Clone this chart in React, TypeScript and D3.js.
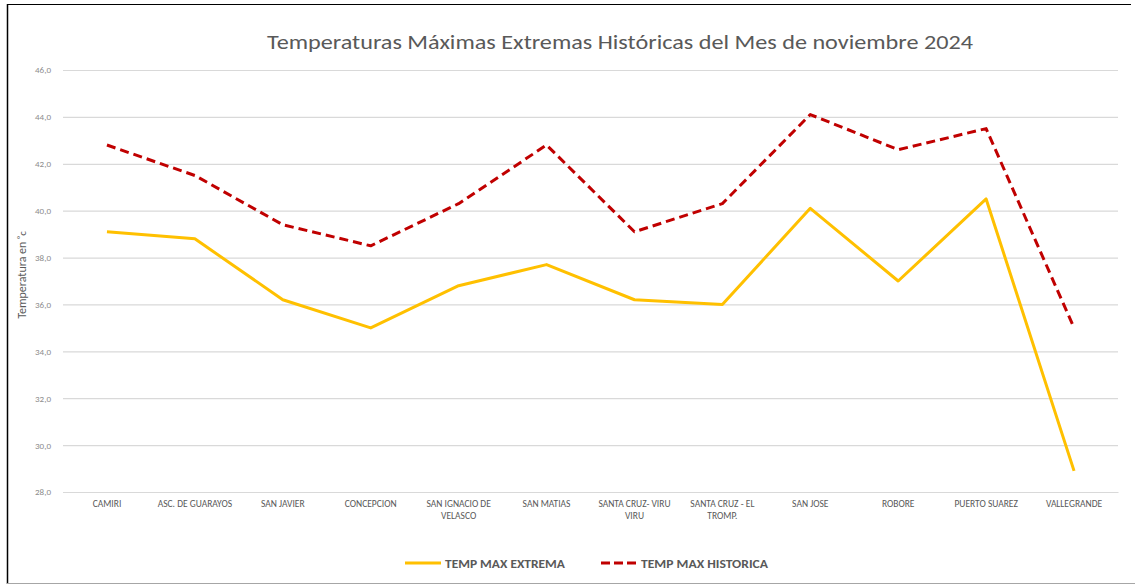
import React, { useEffect, useRef } from 'react';
import * as d3 from 'd3';

const categories: string[][] = [
  ['CAMIRI'],
  ['ASC. DE GUARAYOS'],
  ['SAN JAVIER'],
  ['CONCEPCION'],
  ['SAN IGNACIO DE', 'VELASCO'],
  ['SAN MATIAS'],
  ['SANTA CRUZ- VIRU', 'VIRU'],
  ['SANTA CRUZ - EL', 'TROMP.'],
  ['SAN JOSE'],
  ['ROBORE'],
  ['PUERTO SUAREZ'],
  ['VALLEGRANDE'],
];

const tempMaxExtrema = [39.1, 38.8, 36.2, 35.0, 36.8, 37.7, 36.2, 36.0, 40.1, 37.0, 40.5, 28.9];
const tempMaxHistorica = [42.8, 41.5, 39.4, 38.5, 40.3, 42.8, 39.1, 40.3, 44.1, 42.6, 43.5, 35.0];

const yTicks = [28, 30, 32, 34, 36, 38, 40, 42, 44, 46];

const seriesNames = ['TEMP MAX EXTREMA', 'TEMP MAX HISTORICA'];

const FONT = 'Calibri, Carlito, "Liberation Sans Narrow", "Open Sans", sans-serif';

export default function App() {
  const svgRef = useRef<SVGSVGElement>(null);

  useEffect(() => {
    const svg = d3.select(svgRef.current);
    svg.selectAll('*').remove();

    const W = 1135;
    const H = 585;
    const margin = { top: 70, right: 17, bottom: 93, left: 63 };
    const width = W - margin.left - margin.right;
    const height = H - margin.top - margin.bottom;

    svg.attr('width', W).attr('height', H);

    // fondo y borde
    svg.append('rect').attr('width', W).attr('height', H).attr('fill', '#fff');
    svg.append('line').attr('x1', 7).attr('x2', 1131).attr('y1', 4.5).attr('y2', 4.5)
      .attr('stroke', '#000').attr('stroke-width', 1.2);
    svg.append('line').attr('x1', 7.5).attr('x2', 7.5).attr('y1', 4).attr('y2', 584)
      .attr('stroke', '#000').attr('stroke-width', 1.5);
    svg.append('line').attr('x1', 7).attr('x2', W).attr('y1', 583.5).attr('y2', 583.5)
      .attr('stroke', '#a6a6a6').attr('stroke-width', 1.2);

    const g = svg.append('g').attr('transform', `translate(${margin.left},${margin.top})`);

    const xScale = d3.scaleBand<number>()
      .domain(categories.map((_, i) => i))
      .range([0, width]);
    const xc = (i: number) => (xScale(i) as number) + xScale.bandwidth() / 2;

    const yScale = d3.scaleLinear().domain([28, 46]).range([height, 0]);

    const locale = d3.formatLocale({ decimal: ',', thousands: '.', grouping: [3], currency: ['', ''] });
    const fmt = locale.format('.1f');

    // Сетка
    const grid = g.append('g')
      .call(d3.axisLeft(yScale).tickValues(yTicks).tickSize(-width).tickFormat(() => ''));
    grid.select('.domain').remove();
    grid.selectAll('.tick line').attr('stroke', '#d9d9d9').attr('stroke-width', 1.2);

    // Eje Y
    const yAxis = g.append('g')
      .call(d3.axisLeft(yScale).tickValues(yTicks).tickSize(0).tickPadding(12).tickFormat(d => fmt(d as number)));
    yAxis.select('.domain').remove();
    yAxis.selectAll('text')
      .attr('font-family', FONT)
      .attr('font-size', 9)
      .attr('fill', '#8c8c8c');

    // Eje X
    const xAxis = g.append('g').attr('transform', `translate(0,${height})`)
      .call(d3.axisBottom(xScale).tickSize(0).tickFormat(() => ''));
    xAxis.select('.domain').attr('stroke', '#d9d9d9').attr('stroke-width', 1.2);
    xAxis.selectAll<SVGGElement, number>('.tick').each(function (d) {
      const t = d3.select(this).append('text')
        .attr('text-anchor', 'middle')
        .attr('font-family', FONT)
        .attr('font-size', 9.5)
        .attr('fill', '#595959');
      categories[d].forEach((line, k) => {
        t.append('tspan').attr('x', 0).attr('y', 15 + k * 12).text(line);
      });
    });

    // Líneas
    const line = d3.line<number>()
      .x((_, i) => xc(i))
      .y(d => yScale(d));

    g.append('path')
      .datum(tempMaxExtrema)
      .attr('fill', 'none')
      .attr('stroke', '#ffc000')
      .attr('stroke-width', 3)
      .attr('stroke-linejoin', 'round')
      .attr('d', line);

    g.append('path')
      .datum(tempMaxHistorica)
      .attr('fill', 'none')
      .attr('stroke', '#c00000')
      .attr('stroke-width', 3)
      .attr('stroke-dasharray', '9,5')
      .attr('stroke-linejoin', 'round')
      .attr('d', line);

    // Título
    svg.append('text')
      .attr('x', 620)
      .attr('y', 49)
      .attr('text-anchor', 'middle')
      .attr('font-family', FONT)
      .attr('font-size', 21)
      .attr('fill', '#595959')
      .attr('textLength', 706)
      .attr('lengthAdjust', 'spacingAndGlyphs')
      .text('Temperaturas Máximas Extremas Históricas del Mes de noviembre 2024');

    // Título eje Y
    const yt = svg.append('text')
      .attr('transform', 'translate(26,275) rotate(-90)')
      .attr('text-anchor', 'middle')
      .attr('font-family', FONT)
      .attr('font-size', 12)
      .attr('fill', '#595959');
    yt.append('tspan').text('Temperatura en ');
    yt.append('tspan').attr('font-size', 9).attr('dy', -3).text('°');
    yt.append('tspan').attr('font-size', 11).attr('dy', 3).text('c');

    // Leyenda
    const legend = svg.append('g').attr('transform', 'translate(0,563)');
    const items = [
      { x: 405, w: 120, color: '#ffc000', dash: null as string | null, name: seriesNames[0] },
      { x: 601, w: 127, color: '#c00000', dash: '9,4', name: seriesNames[1] },
    ];
    items.forEach(it => {
      legend.append('line')
        .attr('x1', it.x).attr('x2', it.x + 36)
        .attr('y1', 0).attr('y2', 0)
        .attr('stroke', it.color)
        .attr('stroke-width', 3)
        .attr('stroke-dasharray', it.dash);
      legend.append('text')
        .attr('x', it.x + 40)
        .attr('y', 4.5)
        .attr('font-family', FONT)
        .attr('font-size', 12)
        .attr('font-weight', 'bold')
        .attr('fill', '#595959')
        .attr('textLength', it.w)
        .attr('lengthAdjust', 'spacingAndGlyphs')
        .text(it.name);
    });
  }, []);

  return (
    <div style={{ position: 'absolute', left: 0, top: 0 }}>
      <svg ref={svgRef} style={{ display: 'block' }}></svg>
    </div>
  );
}
